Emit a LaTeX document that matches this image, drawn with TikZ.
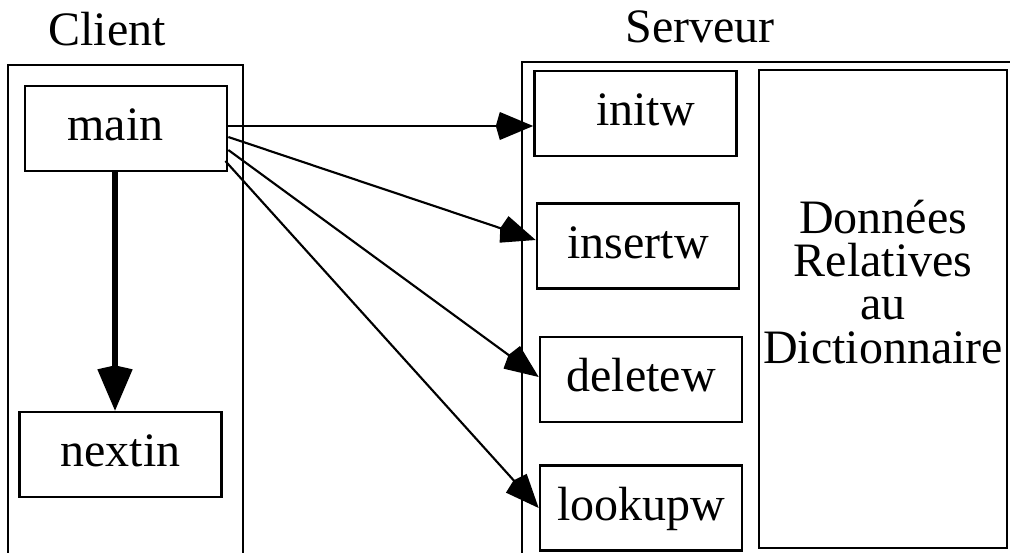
\documentclass[tikz,border=0pt]{standalone}
\usepackage{fontspec}
\setmainfont{Liberation Serif}
\usetikzlibrary{arrows.meta,calc}
\begin{document}
\begin{tikzpicture}[x=0.75pt,y=-0.75pt,
  big/.style={font=\fontsize{36}{43}\selectfont},
  box/.style={draw, line width=2pt, inner sep=0pt, minimum width=151.5pt,
    minimum height=63.75pt, text height=25.2pt, text depth=7.2pt, big},
  frame/.style={draw, line width=2.2pt},
  call/.style={draw, line width=1.6pt, -{Kite[length=28pt,width=21pt,inset=3pt]}},
  flow/.style={draw, line width=3.8pt, -{Kite[length=34pt,width=26.5pt,inset=3pt]}}]
\useasboundingbox (0,0) rectangle (1010,553);
\clip (0,0) rectangle (1010,553);
% titles
\node[big, anchor=base] (tclient) at (107,45) {Client};
\node[big, anchor=base] (tserver) at (700,42) {Serveur};
% containers
\draw[frame] (8,560) -- (8,65) -- (243,65) -- (243,560);
\draw[frame] (522,560) -- (522,62) -- (1015,62);
% client nodes
\node[box] (main) at (126,128.5) {main\hspace*{15.75pt}};
\node[box] (nextin) at (120.5,454.5) {nextin};
% server nodes
\node[box] (initw) at (635.5,113.5) {\hspace*{15pt}initw};
\node[box] (insertw) at (638,246) {insertw};
\node[box] (deletew) at (641,379.5) {deletew};
\node[box] (lookupw) at (641,508) {lookupw};
\node[draw, line width=2pt, inner sep=0pt, minimum width=186pt, minimum height=358.5pt] (data) at (883,309) {};
\node[anchor=base, align=center, text width=186pt, inner sep=0pt,
  font=\fontsize{36}{32.6}\selectfont] (datatext) at (883,233)
  {Données\\Relatives\\au\\Dictionnaire};
% connectors
\coordinate (p) at ($(main.south)+(-11,0)$);
\draw[flow] (p) -- (p |- nextin.north);
\draw[call] ($(main.east)+(0,-2.5)$) -- ($(initw.west)+(0,12.5)$);
\draw[call] ($(main.east)+(0,8.5)$) -- ($(insertw.west)+(0,-6)$);
\draw[call] ($(main.east)+(0,21.5)$) -- ($(deletew.west)+(0,-2.5)$);
\draw[call] ($(main.east)+(-3,32.5)$) -- ($(lookupw.west)+(0,0)$);
\end{tikzpicture}
\end{document}
